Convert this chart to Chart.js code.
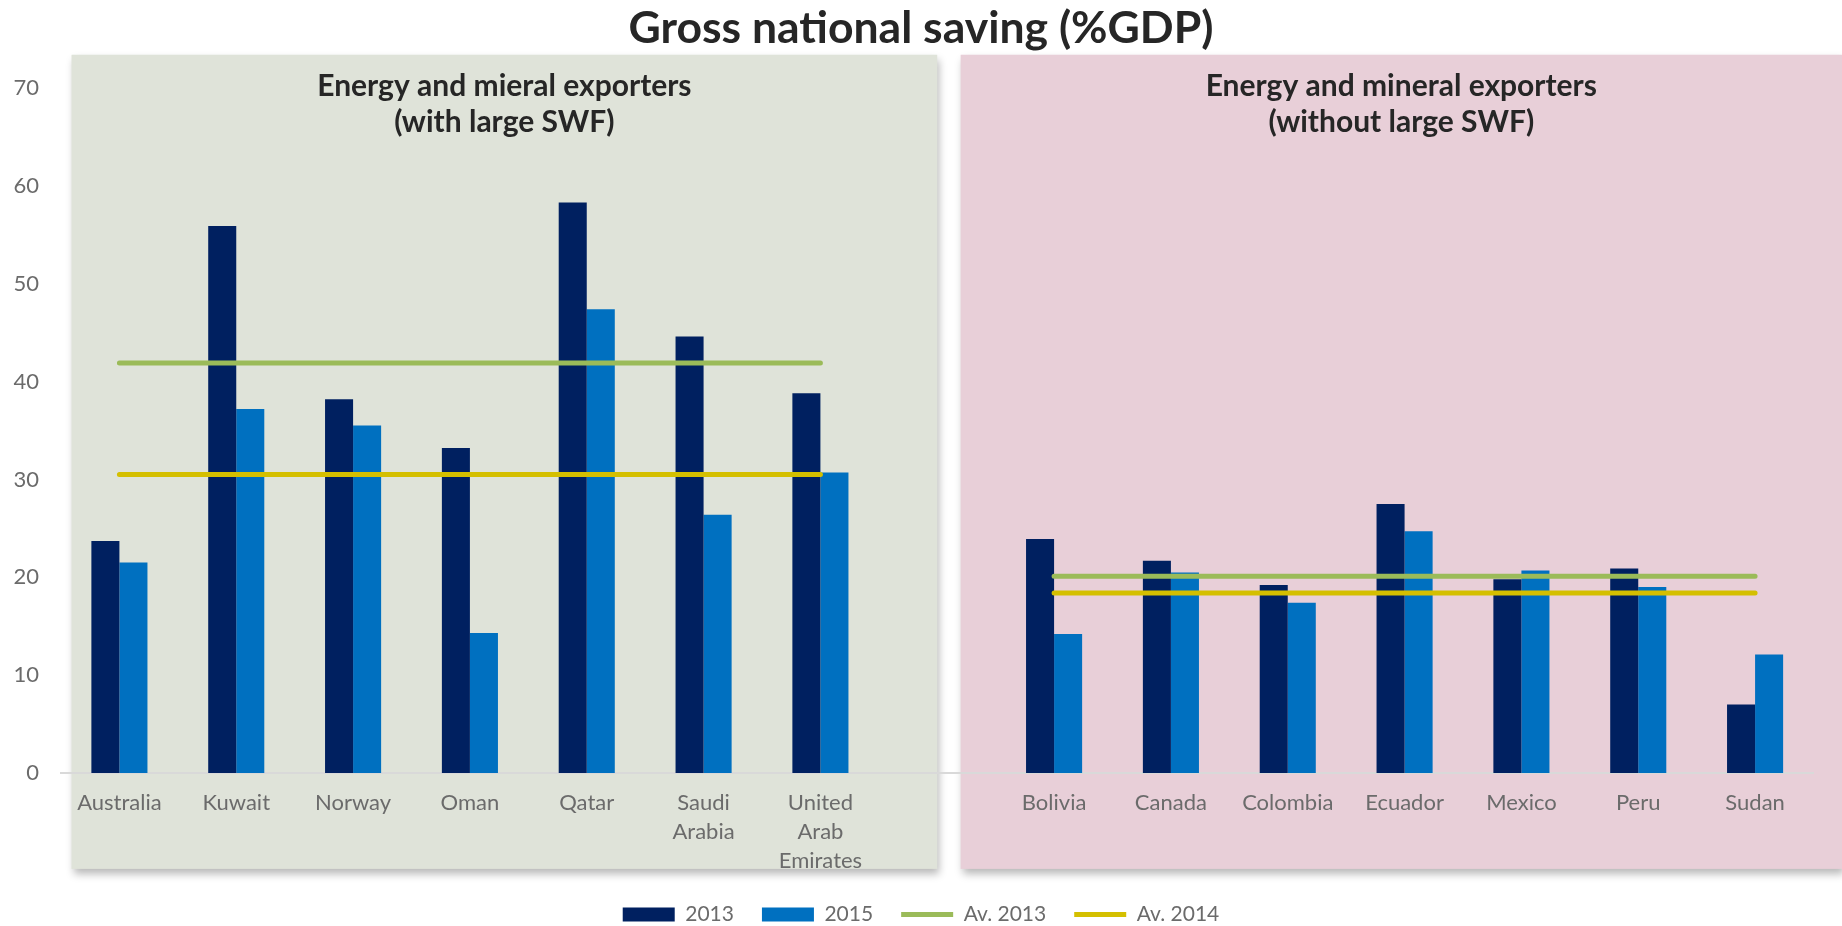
<!DOCTYPE html>
<html>
<head>
  <title>Gross national saving</title>
  <script src="https://cdn.jsdelivr.net/npm/chart.js"></script>
  <style>
    body { margin: 0; background: #fff; }
  </style>
</head>
<body>
  <canvas id="savingChart" width="1842" height="926"></canvas>
  <script>
    // countries, with an empty slot separating the two groups
    const countries = [
      'Australia', 'Kuwait', 'Norway', 'Oman', 'Qatar', ['Saudi', 'Arabia'], ['United', 'Arab', 'Emirates'],
      '',
      'Bolivia', 'Canada', 'Colombia', 'Ecuador', 'Mexico', 'Peru', 'Sudan'
    ];
    const saving2013 = [23.7, 55.9, 38.2, 33.2, 58.3, 44.6, 38.8, null, 23.9, 21.7, 19.2, 27.5, 19.8, 20.9, 7.0];
    const saving2015 = [21.5, 37.2, 35.5, 14.3, 47.4, 26.4, 30.7, null, 14.2, 20.5, 17.4, 24.7, 20.7, 19.0, 12.1];

    // group averages: [with large SWF, without large SWF]
    const av2013 = [41.9, 20.1];
    const av2014 = [30.5, 18.4];

    const groupTitles = [
      ['Energy and mieral exporters', '(with large SWF)'],
      ['Energy and mineral exporters', '(without large SWF)']
    ];

    const splitIndex = 7;
    const groupLine = (av) => countries.map((c, i) => i < splitIndex ? av[0] : (i > splitIndex ? av[1] : null));

    // shaded group panels + their headings, placed in category / value units
    const panels = [
      { from: -0.41, to: 7.0, fill: '#dfe3d9', title: groupTitles[0] },
      { from: 7.2, to: null, fill: '#e8cfd8', title: groupTitles[1] }
    ];
    const panelTop = 73.4, panelBottom = -9.8;

    const groupPanels = {
      id: 'groupPanels',
      beforeDraw(chart) {
        const { ctx } = chart;
        const x = chart.scales.x, y = chart.scales.y;
        const top = y.getPixelForValue(panelTop);
        const bottom = y.getPixelForValue(panelBottom);
        ctx.save();
        panels.forEach(p => {
          const left = x.getPixelForValue(p.from);
          const right = p.to === null ? chart.width : x.getPixelForValue(p.to);
          ctx.save();
          ctx.shadowColor = 'rgba(0,0,0,0.28)';
          ctx.shadowBlur = 8;
          ctx.shadowOffsetX = 2;
          ctx.shadowOffsetY = 5;
          ctx.fillStyle = p.fill;
          ctx.fillRect(left, top, right - left, bottom - top);
          ctx.restore();

          ctx.fillStyle = '#262626';
          ctx.font = 'bold 30px Lato';
          ctx.textAlign = 'center';
          ctx.textBaseline = 'middle';
          const cx = (left + right) / 2;
          ctx.fillText(p.title[0], cx, 86);
          ctx.fillText(p.title[1], cx, 122);
        });
        ctx.restore();
      }
    };

    Chart.defaults.font.family = 'Lato';
    Chart.defaults.color = '#666';

    new Chart(document.getElementById('savingChart'), {
      type: 'bar',
      data: {
        labels: countries,
        datasets: [
          { label: '2013', data: saving2013, backgroundColor: '#002060', order: 1 },
          { label: '2015', data: saving2015, backgroundColor: '#0070c0', order: 1 },
          {
            type: 'line', label: 'Av. 2013', data: groupLine(av2013),
            borderColor: '#9bbb59', backgroundColor: '#9bbb59', borderWidth: 5,
            borderCapStyle: 'round', pointRadius: 0, spanGaps: false, order: 0
          },
          {
            type: 'line', label: 'Av. 2014', data: groupLine(av2014),
            borderColor: '#d4bf00', backgroundColor: '#d4bf00', borderWidth: 5,
            borderCapStyle: 'round', pointRadius: 0, spanGaps: false, order: 0
          }
        ]
      },
      options: {
        responsive: false,
        animation: false,
        devicePixelRatio: 1,
        datasets: {
          bar: { categoryPercentage: 0.48, barPercentage: 1.0 }
        },
        layout: { padding: { left: 0, right: 0, top: 0, bottom: -9 } },
        scales: {
          x: {
            grid: { display: false, drawTicks: false },
            border: { display: true, color: '#d9d9d9', width: 2 },
            ticks: {
              autoSkip: false, maxRotation: 0, minRotation: 0, padding: 16,
              color: '#6b6b6b',
              font: { size: 22, lineHeight: 1.3 }
            },
            afterFit(scale) { scale.height = 103; }
          },
          y: {
            min: 0, max: 70,
            grid: { display: false, drawTicks: false },
            border: { display: false },
            ticks: { stepSize: 10, padding: 22, color: '#6b6b6b', font: { size: 22 } },
            afterFit(scale) { scale.width = 61; }
          },
          // blank right margin so title and legend stay centred on the page
          yRight: {
            position: 'right',
            grid: { display: false, drawTicks: false },
            border: { display: false },
            ticks: { display: false },
            afterFit(scale) { scale.width = 28.5; }
          }
        },
        plugins: {
          title: {
            display: true,
            text: 'Gross national saving (%GDP)',
            color: '#262626',
            font: { size: 44.5, weight: 'bold' },
            padding: { top: 2, bottom: 32.6 }
          },
          legend: {
            position: 'bottom',
            labels: {
              usePointStyle: true,
              pointStyleWidth: 52,
              boxHeight: 14,
              padding: 28,
              color: '#6b6b6b',
              font: { size: 21 },
              sort: (a, b) => a.datasetIndex - b.datasetIndex,
              generateLabels(chart) {
                return Chart.defaults.plugins.legend.labels.generateLabels(chart).map(item => {
                  const ds = chart.data.datasets[item.datasetIndex];
                  item.pointStyle = ds.type === 'line' ? 'line' : 'rect';
                  return item;
                });
              }
            }
          },
          tooltip: { enabled: false }
        }
      },
      plugins: [groupPanels]
    });
  </script>
</body>
</html>
